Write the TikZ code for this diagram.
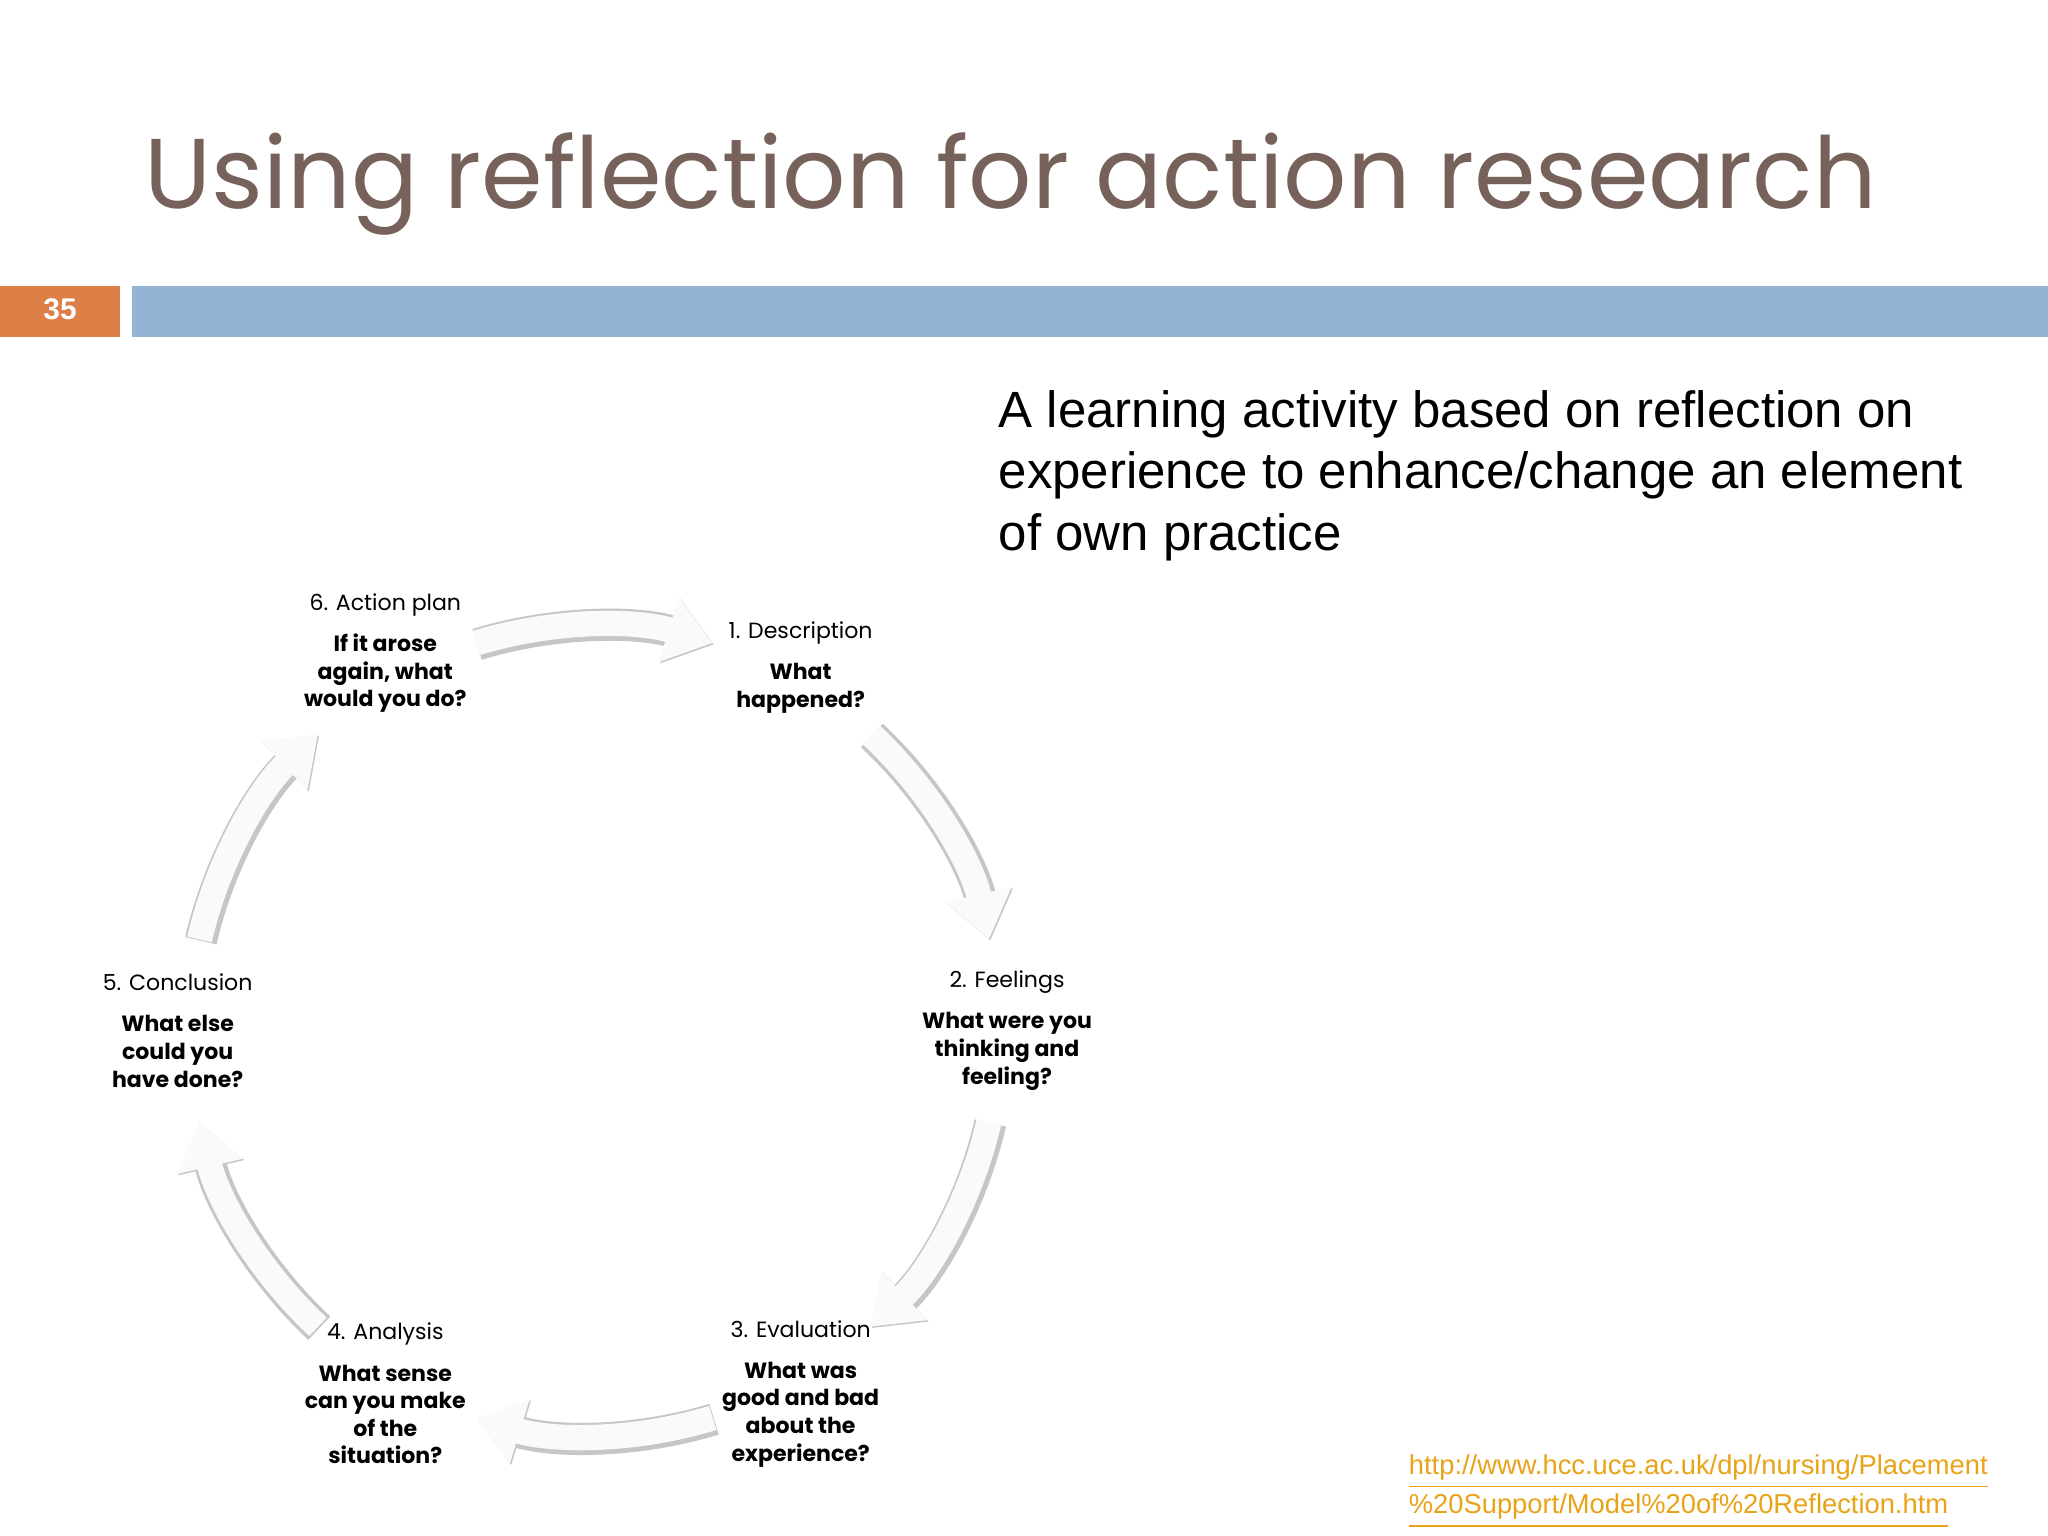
\documentclass[tikz,border=0pt]{standalone}
\usepackage{fontspec}
\setmainfont{Poppins}
\newfontfamily\arial{Liberation Sans}
\usetikzlibrary{arrows.meta}
\definecolor{titlec}{HTML}{76625A}
\definecolor{barblue}{HTML}{93B4D3}
\definecolor{numor}{HTML}{DD8047}
\definecolor{linkc}{HTML}{E8A317}
\begin{document}
\begin{tikzpicture}[x=0.01cm,y=0.01cm,
  lab/.style={align=center,font=\fontsize{4.8}{6}\selectfont,inner sep=0pt},
  cyc/.style={-{Triangle[length=10pt,width=14pt]},line width=5.5pt}]
\useasboundingbox (0,0) rectangle (1568,1176);
\fill[white] (0,0) rectangle (1568,1176);
\node[anchor=base west,text=titlec,font=\fontsize{21.6}{26}\selectfont,inner sep=0pt] (title) at (110,1016) {Using reflection for action research};
\fill[numor] (0,918) rectangle (92,957);
\node[text=white,font=\arial\bfseries\fontsize{6.5}{8}\selectfont] (num) at (46,939) {35};
\fill[barblue] (101,918) rectangle (1568,957);
\node[anchor=north west,align=left,font=\arial\fontsize{11.1}{13.4}\selectfont,inner sep=0pt] (desc) at (764,878) {A learning activity based on reflection on\\experience to enhance/change an element\\of own practice};
\node[lab] (n1) at (613,665) {1. Description\\[3pt]\bfseries What\\\bfseries happened?};
\node[lab] (n2) at (771,387) {2. Feelings\\[3pt]\bfseries What were you\\\bfseries thinking and\\\bfseries feeling?};
\node[lab] (n3) at (613,109) {3. Evaluation\\[3pt]\bfseries What was\\\bfseries good and bad\\\bfseries about the\\\bfseries experience?};
\node[lab] (n4) at (295,109) {4. Analysis\\[3pt]\bfseries What sense\\\bfseries can you make\\\bfseries of the\\\bfseries situation?};
\node[lab] (n5) at (136,387) {5. Conclusion\\[3pt]\bfseries What else\\\bfseries could you\\\bfseries have done?};
\node[lab] (n6) at (295,676) {6. Action plan\\[3pt]\bfseries If it arose\\\bfseries again, what\\\bfseries would you do?};
\foreach \c in {90,30,-30,-90,-150,150}{
  \pgfmathsetmacro\s{\c+17}\pgfmathsetmacro\e{\c-17}
  \draw[cyc,draw=gray!45,fill=gray!45,line width=7pt] ([shift={(456,386)}]\s:3.1cm) arc[start angle=\s,end angle=\e,radius=3.1cm];
  \draw[cyc,draw=gray!4,fill=gray!4] ([shift={(455,387)}]\s:3.1cm) arc[start angle=\s,end angle=\e,radius=3.1cm];
}
\node[anchor=north west,align=left,text=linkc,font=\arial\fontsize{5.95}{7.4}\selectfont,inner sep=0pt] (link) at (1078,63) {\underline{http://www.hcc.uce.ac.uk/dpl/nursing/Placement}\\\underline{\%20Support/Model\%20of\%20Reflection.htm}};
\end{tikzpicture}
\end{document}
